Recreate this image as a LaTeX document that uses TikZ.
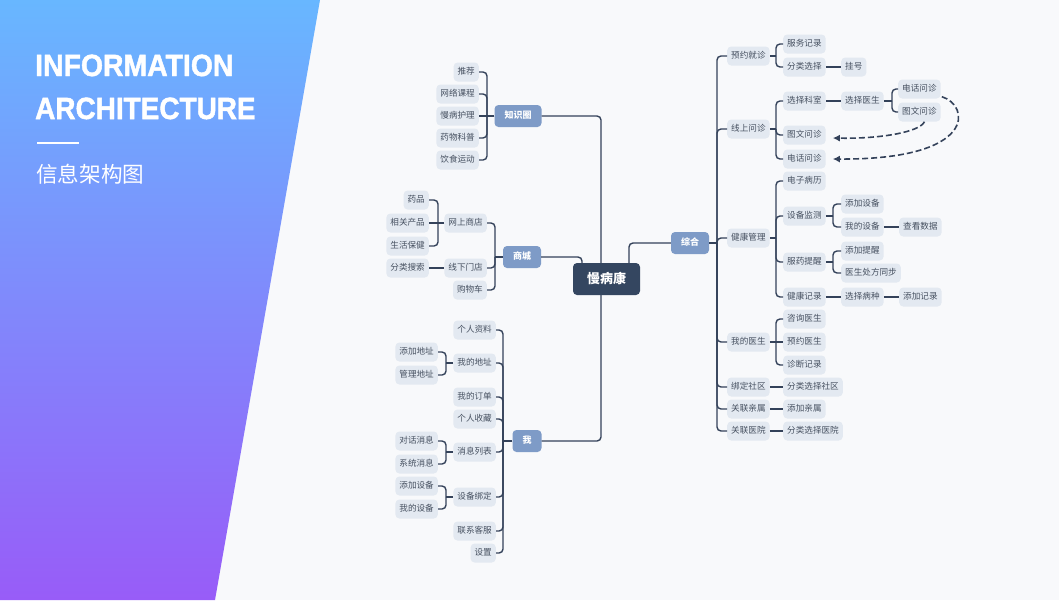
\documentclass[tikz,border=0pt]{standalone}
\usepackage{fontspec}
\usepackage{graphicx}
\setmainfont{Noto Sans CJK SC}
\newfontfamily\titlefont{Liberation Sans}[BoldFeatures={FakeBold=1.6}]
\usetikzlibrary{arrows.meta}
\definecolor{bgR}{RGB}{248,249,251}
\definecolor{leafFill}{RGB}{227,233,241}
\definecolor{leafText}{RGB}{70,80,96}
\definecolor{catFill}{RGB}{126,155,199}
\definecolor{rootFill}{RGB}{52,70,96}
\definecolor{lineC}{RGB}{52,66,90}
\definecolor{gTop}{RGB}{104,183,255}
\definecolor{gBot}{RGB}{152,92,248}
\tikzset{
  leafbox/.style={fill=leafFill, text=leafText, rounded corners=4pt, minimum height=19pt,
    inner xsep=4pt, inner ysep=0pt, text height=7pt, text depth=1.5pt,
    font=\fontsize{8.6}{10}\selectfont},
  catbox/.style={fill=catFill, text=white, rounded corners=4pt, minimum height=22pt,
    inner xsep=10pt, inner ysep=0pt, text height=7.5pt, text depth=1.6pt,
    font=\fontsize{9}{10}\selectfont\bfseries},
  rootbox/.style={fill=rootFill, text=white, rounded corners=4pt, minimum height=32pt,
    inner xsep=14pt, inner ysep=0pt, text height=11pt, text depth=2.3pt,
    font=\fontsize{13}{14}\selectfont\bfseries},
  conn/.style={draw=lineC, line width=1.4pt, rounded corners=4pt},
  darr/.style={draw=lineC, line width=1.6pt, dash pattern=on 6pt off 3pt,
    -{Latex[length=7pt,width=7pt]}},
  ttl/.style={anchor=base west, inner sep=0pt, text=white},
}
\newcommand\forkR[3]{%
  \draw[conn] (#1.east) -- (#1.east -| #2);
  \foreach \c in {#3}{\draw[conn] (#1.east -| #2) |- (\c.west);}}
\newcommand\forkL[3]{%
  \draw[conn] (#1.west) -- (#1.west -| #2);
  \foreach \c in {#3}{\draw[conn] (#1.west -| #2) |- (\c.east);}}
\begin{document}
\begin{tikzpicture}[x=1pt,y=-1pt]
\useasboundingbox (0,0) rectangle (1059,600);
\fill[bgR] (0,0) rectangle (1059,600);
\shade[top color=gTop, bottom color=gBot] (0,0) -- (320,0) -- (215,600) -- (0,600) -- cycle;

% title
\node[ttl, font=\titlefont\bfseries\fontsize{30.7}{32}\selectfont] (t1) at (35,76) {\scalebox{0.925}[1]{INFORMATION}};
\node[ttl, font=\titlefont\bfseries\fontsize{30.7}{32}\selectfont] (t2) at (35,119) {\scalebox{0.91}[1]{ARCHITECTURE}};
\draw[white, line width=2.5pt] (37,143) -- (79,143);
\node[ttl, font=\fontsize{21.6}{24}\selectfont] (t3) at (36,182.5) {信息架构图};

% bar coordinates
\coordinate (trunk) at (601,0);
\coordinate (sctr) at (582,0);
\coordinate (zhx) at (629,0);
\coordinate (bzsq) at (487,0);
\coordinate (bsc) at (495,0);
\coordinate (bs1) at (438,0);
\coordinate (bwo) at (503,0);
\coordinate (bw) at (446,0);
\coordinate (bzh) at (717,0);
\coordinate (b3) at (776,0);
\coordinate (b4) at (833,0);
\coordinate (b5) at (892,0);

% root and categories
\node[rootbox] (root) at (606.5,279) {慢病康};
\node[catbox] (zsq) at (518,116) {知识圈};
\node[catbox] (sc) at (522,257) {商城};
\node[catbox] (wo) at (527,441) {我};
\node[catbox] (zh) at (690,243) {综合};

% 知识圈
\node[leafbox, anchor=east] (z1) at (479,72) {推荐};
\node[leafbox, anchor=east] (z2) at (479,94) {网络课程};
\node[leafbox, anchor=east] (z3) at (479,116) {慢病护理};
\node[leafbox, anchor=east] (z4) at (479,138) {药物科普};
\node[leafbox, anchor=east] (z5) at (479,160) {饮食运动};

% 商城
\node[leafbox, anchor=east] (s1) at (487,223) {网上商店};
\node[leafbox, anchor=east] (s2) at (487,268) {线下门店};
\node[leafbox, anchor=east] (s3) at (487,290) {购物车};
\node[leafbox, anchor=east] (s11) at (429,200) {药品};
\node[leafbox, anchor=east] (s12) at (429,223) {相关产品};
\node[leafbox, anchor=east] (s13) at (429,246) {生活保健};
\node[leafbox, anchor=east] (s21) at (429,268) {分类搜索};

% 我
\node[leafbox, anchor=east] (w1) at (496,330) {个人资料};
\node[leafbox, anchor=east] (w2) at (496,363) {我的地址};
\node[leafbox, anchor=east] (w3) at (496,397) {我的订单};
\node[leafbox, anchor=east] (w4) at (496,419) {个人收藏};
\node[leafbox, anchor=east] (w5) at (496,452) {消息列表};
\node[leafbox, anchor=east] (w6) at (496,497) {设备绑定};
\node[leafbox, anchor=east] (w7) at (496,531) {联系客服};
\node[leafbox, anchor=east] (w8) at (496,553) {设置};
\node[leafbox, anchor=east] (w21) at (438,352) {添加地址};
\node[leafbox, anchor=east] (w22) at (438,375) {管理地址};
\node[leafbox, anchor=east] (w51) at (438,441) {对话消息};
\node[leafbox, anchor=east] (w52) at (438,464) {系统消息};
\node[leafbox, anchor=east] (w61) at (438,486) {添加设备};
\node[leafbox, anchor=east] (w62) at (438,509) {我的设备};

% 综合
\node[leafbox, anchor=west] (r1) at (727,56) {预约就诊};
\node[leafbox, anchor=west] (r2) at (727,129) {线上问诊};
\node[leafbox, anchor=west] (r3) at (727,238) {健康管理};
\node[leafbox, anchor=west] (r4) at (727,342) {我的医生};
\node[leafbox, anchor=west] (r5) at (727,387) {绑定社区};
\node[leafbox, anchor=west] (r6) at (727,409) {关联亲属};
\node[leafbox, anchor=west] (r7) at (727,431) {关联医院};

\node[leafbox, anchor=west] (r11) at (783,44) {服务记录};
\node[leafbox, anchor=west] (r12) at (783,67) {分类选择};
\node[leafbox, anchor=west] (r121) at (841,67) {挂号};

\node[leafbox, anchor=west] (r21) at (783,101) {选择科室};
\node[leafbox, anchor=west] (r22) at (783,135) {图文问诊};
\node[leafbox, anchor=west] (r23) at (783,159) {电话问诊};
\node[leafbox, anchor=west] (r211) at (841,101) {选择医生};
\node[leafbox, anchor=west] (r2111) at (898,89) {电话问诊};
\node[leafbox, anchor=west] (r2112) at (898,112) {图文问诊};

\node[leafbox, anchor=west] (r31) at (783,181) {电子病历};
\node[leafbox, anchor=west] (r32) at (783,216) {设备监测};
\node[leafbox, anchor=west] (r33) at (783,262) {服药提醒};
\node[leafbox, anchor=west] (r34) at (783,297) {健康记录};
\node[leafbox, anchor=west] (r321) at (841,204) {添加设备};
\node[leafbox, anchor=west] (r322) at (841,227) {我的设备};
\node[leafbox, anchor=west] (r3221) at (899,227) {查看数据};
\node[leafbox, anchor=west] (r331) at (841,251) {添加提醒};
\node[leafbox, anchor=west] (r332) at (841,273) {医生处方同步};
\node[leafbox, anchor=west] (r341) at (841,297) {选择病种};
\node[leafbox, anchor=west] (r3411) at (899,297) {添加记录};

\node[leafbox, anchor=west] (r41) at (783,319) {咨询医生};
\node[leafbox, anchor=west] (r42) at (783,342) {预约医生};
\node[leafbox, anchor=west] (r43) at (783,365) {诊断记录};
\node[leafbox, anchor=west] (r51) at (783,387) {分类选择社区};
\node[leafbox, anchor=west] (r61) at (783,409) {添加亲属};
\node[leafbox, anchor=west] (r71) at (783,431) {分类选择医院};

% ---- connectors: root to categories
\draw[conn] (zsq.east) -| (root.north -| trunk);
\draw[conn] (sc.east) -| (root.north -| sctr);
\draw[conn] (wo.east) -| (root.south -| trunk);
\draw[conn] (root.north -| zhx) |- (zh.west);

% 知识圈
\forkL{zsq}{bzsq}{z1,z2,z4,z5}
\draw[conn] (zsq.west) -- (z3.east);
% 商城
\forkL{sc}{bsc}{s1,s2,s3}
\forkL{s1}{bs1}{s11,s13}
\draw[conn] (s1.west) -- (s12.east);
\draw[conn] (s2.west) -- (s21.east);
% 我
\forkL{wo}{bwo}{w1,w2,w3,w4,w5,w6,w7,w8}
\forkL{w2}{bw}{w21,w22}
\forkL{w5}{bw}{w51,w52}
\forkL{w6}{bw}{w61,w62}
% 综合
\forkR{zh}{bzh}{r1,r2,r3,r4,r5,r6,r7}
\forkR{r1}{b3}{r11,r12}
\draw[conn] (r12.east) -- (r121.west);
\forkR{r2}{b3}{r21,r22,r23}
\draw[conn] (r21.east) -- (r211.west);
\forkR{r211}{b5}{r2111,r2112}
\forkR{r3}{b3}{r31,r32,r33,r34}
\forkR{r32}{b4}{r321,r322}
\draw[conn] (r322.east) -- (r3221.west);
\forkR{r33}{b4}{r331,r332}
\draw[conn] (r34.east) -- (r341.west);
\draw[conn] (r341.east) -- (r3411.west);
\forkR{r4}{b3}{r41,r43}
\draw[conn] (r4.east) -- (r42.west);
\draw[conn] (r5.east) -- (r51.west);
\draw[conn] (r6.east) -- (r61.west);
\draw[conn] (r7.east) -- (r71.west);

% dashed arrows
\draw[darr] ([xshift=1pt,yshift=2pt]r2111.south east) .. controls (970,105) and (978,160) .. ([xshift=7pt]r23.east);
\draw[darr] ([xshift=5pt]r2112.south) .. controls (920,132) and (880,139) .. ([xshift=7pt,yshift=-3pt]r22.east);
\end{tikzpicture}
\end{document}
